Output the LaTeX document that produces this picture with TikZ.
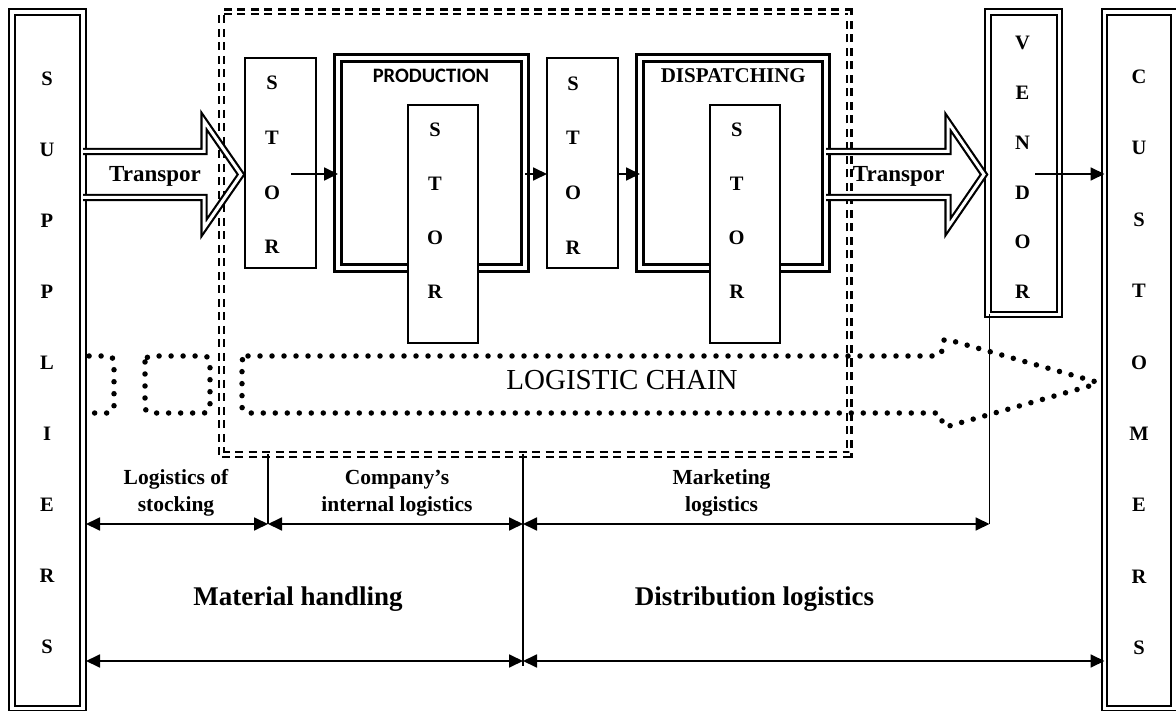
\documentclass[tikz,border=0pt]{standalone}
\usepackage{fontspec}
\setmainfont{Liberation Serif}
\newfontfamily\calibri{Carlito}
\usetikzlibrary{arrows.meta, positioning}

\begin{document}
\begin{tikzpicture}[x=1pt, y=-1pt, >={Triangle[length=14pt,width=13pt]},
  pillar/.style={draw, double, line width=2.2pt, double distance=3.3pt, inner sep=0pt, outer sep=0pt},
  unitframe/.style={draw, double, line width=2.7pt, double distance=3.8pt, inner sep=0pt, outer sep=0pt},
  store/.style={draw, fill=white, line width=1.7pt, minimum width=71pt, inner sep=0pt, outer sep=0pt},
  company/.style={draw, double, line width=2.2pt, double distance=2.6pt, dash pattern=on 8pt off 5.5pt, inner sep=0pt},
  letters/.style={font=\bfseries\fontsize{20.5}{#1}\selectfont, align=center, inner sep=0pt},
  note/.style={font=\bfseries\fontsize{21.5}{27}\selectfont, align=center, inner sep=0pt},
  pipe/.style={double, line width=2.2pt, double distance=3pt, line join=miter},
  chainline/.style={line width=5.5pt, line cap=round, dash pattern=on 0pt off 12pt, rounded corners=6pt},
  flow/.style={->, line width=1.8pt},
  span/.style={<->, line width=1.8pt},
  divider/.style={line width=1.6pt}]

  \useasboundingbox (0,0) rectangle (1176,711);

  % company boundary
  \node[company, minimum width=627.5pt, minimum height=442.5pt] (firm) at (535.25,233.25) {};

  % logistic chain
  \draw[chainline] (83,356) rectangle (114,413);
  \draw[chainline] (145,356) rectangle (210,413);
  \draw[chainline] (242,356) -- (942,356) -- (942,338) -- (1100,383) -- (942,428) -- (942,413) -- (242,413) -- cycle;
  \node[font=\fontsize{29}{35}\selectfont, anchor=base] (chain) at (622,390) {LOGISTIC CHAIN};

  % suppliers, vendor, customers
  \node[pillar, minimum width=71pt, minimum height=696.5pt] (sup) at (47.5,360.25) {};
  \node[letters=71] (suptext) at (47,363) {S\\U\\P\\P\\L\\I\\E\\R\\S};
  \node[pillar, minimum width=69.5pt, minimum height=696.5pt] (cust) at (1139.25,360.25) {};
  \node[letters=71.4] (custtext) at (1139,362.5) {C\\U\\S\\T\\O\\M\\E\\R\\S};
  \node[pillar, minimum width=71.5pt, minimum height=302.5pt] (vend) at (1023.75,163.25) {};
  \node[letters=49.8] (vendtext) at (1022.5,167.5) {V\\E\\N\\D\\O\\R};

  % inside the company
  \node[store, minimum height=210pt] (stor1) at (280.5,163) {};
  \node[letters=54.7] (stor1text) at (272,165) {S\\T\\O\\R};
  \node[unitframe, minimum width=187pt, minimum height=210pt] (prod) at (431.5,163) {};
  \node[font=\calibri\bfseries\fontsize{20.5}{24}\selectfont, anchor=base] (prodtitle) at (431,82.7) {PRODUCTION};
  \node[store, minimum width=70pt, minimum height=238pt] (pstor) at (443,224) {};
  \node[letters=54] (pstortext) at (435,211) {S\\T\\O\\R};
  \node[store, minimum height=210pt] (stor2) at (582.5,163) {};
  \node[letters=54.7] (stor2text) at (573,165.5) {S\\T\\O\\R};
  \node[unitframe, minimum width=186pt, minimum height=210pt] (disp) at (733,163) {};
  \node[font=\bfseries\fontsize{21}{25}\selectfont, anchor=base] (disptitle) at (733.3,82.3) {DISPATCHING};
  \node[store, minimum width=70pt, minimum height=238pt] (dstor) at (745,224) {};
  \node[letters=54] (dstortext) at (736.7,211) {S\\T\\O\\R};

  % transport
  \draw[pipe] (83,151.5) -- (204,151.5) -- (204,121) -- (241,174.5) -- (204,228) -- (204,197.5) -- (83,197.5);
  \node[font=\bfseries\fontsize{23}{27}\selectfont, anchor=base] (tleft) at (155,181.7) {Transpor};
  \draw[pipe] (826,151.5) -- (948,151.5) -- (948,122) -- (984,174.5) -- (948,227) -- (948,197.5) -- (826,197.5);
  \node[font=\bfseries\fontsize{23}{27}\selectfont, anchor=base] (tright) at (898.7,181.7) {Transpor};

  \draw[flow] ([shift={(10.5,11)}]stor1.center) -- ([yshift=-11pt]prod.west);
  \draw[flow] ([yshift=-11pt]prod.east) -- ([yshift=-11pt]stor2.west);
  \draw[flow] ([yshift=-11pt]stor2.east) -- ([yshift=-11pt]disp.west);
  \draw[flow] ([shift={(11.5,10.75)}]vend.center) coordinate (v0) -- (v0 -| cust.west);

  % spans below
  \coordinate (m1) at (268,454);
  \coordinate (m2) at (523,454);
  \coordinate (m3) at ([xshift=1.5pt]vend.south west);
  \coordinate (row1) at (86,524);
  \coordinate (row2) at (86,661);

  \draw[divider] (m1) -- (m1 |- row1);
  \draw[divider] (m2) -- ([yshift=-5pt]m2 |- row2);
  \draw[divider] (m3) -- (m3 |- row1);

  \draw[span] (row1) -- (m1 |- row1);
  \draw[span] (m1 |- row1) -- (m2 |- row1);
  \draw[span] (m2 |- row1) -- (m3 |- row1);
  \draw[span] (row2) -- (m2 |- row2);
  \draw[span] (m2 |- row2) -- (cust.west |- row2);

  \node[note] (stocking) at (176,493) {Logistics of\\stocking};
  \node[note] (internal) at (397,493) {Company's\\internal logistics};
  \node[note] (marketing) at (721.5,493) {Marketing\\logistics};
  \node[font=\bfseries\fontsize{27}{32}\selectfont, anchor=base] (handling) at (298,605) {Material handling};
  \node[font=\bfseries\fontsize{27}{32}\selectfont, anchor=base] (distribution) at (754.5,605) {Distribution logistics};
\end{tikzpicture}
\end{document}
